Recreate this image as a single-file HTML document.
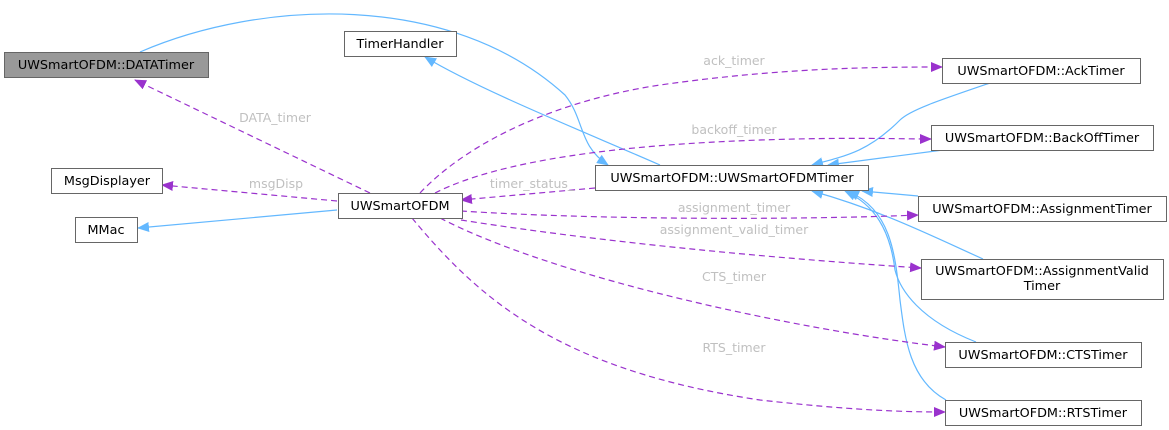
<!DOCTYPE html>
<html><head><meta charset="utf-8"><style>
html,body{margin:0;padding:0;background:#fff;}
svg{display:block;font-family:"DejaVu Sans","Liberation Sans",sans-serif;}
</style></head><body>
<svg width="1169" height="430" viewBox="0 0 1169 430" xmlns="http://www.w3.org/2000/svg">
<defs>
<marker id="b" markerWidth="12" markerHeight="10" refX="11" refY="5" orient="auto" markerUnits="userSpaceOnUse"><path d="M0,0 L12,5 L0,10 z" fill="#63b8ff"/></marker>
<marker id="p" markerWidth="12" markerHeight="10" refX="11" refY="5" orient="auto" markerUnits="userSpaceOnUse"><path d="M0,0 L12,5 L0,10 z" fill="#9a32cd"/></marker>
</defs>
<g fill="none" stroke="#63b8ff" stroke-width="1.2">
<path d="M337,210 L138,228" marker-end="url(#b)"/>
<path d="M660,165 C580,130 480,90 425,57" marker-end="url(#b)"/>
<path d="M140,52 C260,0 450,-10 565,95 C585,120 578,145 608,165" marker-end="url(#b)"/>
<path d="M990,83 C940,100 910,110 900,120 C870,150 850,155 812,165" marker-end="url(#b)"/>
<path d="M943,150 L828,165" marker-end="url(#b)"/>
<path d="M918,196 L862,191" marker-end="url(#b)"/>
<path d="M983,259 C930,235 880,210 812,191" marker-end="url(#b)"/>
<path d="M976,342 C920,320 900,290 895,270 C890,230 875,205 845,191" marker-end="url(#b)"/>
<path d="M946,400 C910,380 905,340 900,300 C895,250 890,210 848,191" marker-end="url(#b)"/>
</g>
<g fill="none" stroke="#9a32cd" stroke-width="1.2" stroke-dasharray="6,4">
<path d="M370,193 L135,80" marker-end="url(#p)"/>
<path d="M337,201 L162,185" marker-end="url(#p)"/>
<path d="M595,188 L461,200" marker-end="url(#p)"/>
<path d="M420,193 C470,140 560,100 660,85 C780,68 870,67 942,67" marker-end="url(#p)"/>
<path d="M435,193 C500,160 620,145 760,140 C850,137 900,139 931,139" marker-end="url(#p)"/>
<path d="M461,211 C600,220 800,220 918,215" marker-end="url(#p)"/>
<path d="M461,220 C620,245 800,260 921,268" marker-end="url(#p)"/>
<path d="M440,218 C560,280 800,330 945,347" marker-end="url(#p)"/>
<path d="M412,218 C480,300 560,370 760,400 C850,410 900,412 945,412" marker-end="url(#p)"/>
</g>
<g font-size="12.5" fill="#c0c0c0" text-anchor="middle">
<text x="275" y="122">DATA_timer</text>
<text x="276" y="188">msgDisp</text>
<text x="532" y="188">timer_status_</text>
<text x="734" y="65">ack_timer</text>
<text x="734" y="134">backoff_timer</text>
<text x="734" y="212">assignment_timer</text>
<text x="734" y="234">assignment_valid_timer</text>
<text x="734" y="281">CTS_timer</text>
<text x="734" y="352">RTS_timer</text>
</g>
<g stroke="#666" stroke-width="1" font-size="12.8" text-anchor="middle">
<rect x="4.5" y="52.5" width="204" height="25" fill="#999"/>
<text x="106" y="69" fill="#000" stroke="none">UWSmartOFDM::DATATimer</text>
<rect x="344.5" y="31.5" width="112" height="25" fill="#fff"/>
<text x="400" y="48" fill="#000" stroke="none">TimerHandler</text>
<rect x="51.5" y="168.5" width="111" height="25" fill="#fff"/>
<text x="107" y="185" fill="#000" stroke="none">MsgDisplayer</text>
<rect x="75.5" y="217.5" width="62" height="25" fill="#fff"/>
<text x="106" y="234" fill="#000" stroke="none">MMac</text>
<rect x="338.5" y="193.5" width="124" height="25" fill="#fff"/>
<text x="400" y="210" fill="#000" stroke="none">UWSmartOFDM</text>
<rect x="595.5" y="165.5" width="273" height="25" fill="#fff"/>
<text x="732" y="182" fill="#000" stroke="none">UWSmartOFDM::UWSmartOFDMTimer</text>
<rect x="942.5" y="58.5" width="198" height="25" fill="#fff"/>
<text x="1041" y="75" fill="#000" stroke="none">UWSmartOFDM::AckTimer</text>
<rect x="931.5" y="125.5" width="222" height="25" fill="#fff"/>
<text x="1042" y="142" fill="#000" stroke="none">UWSmartOFDM::BackOffTimer</text>
<rect x="918.5" y="196.5" width="248" height="25" fill="#fff"/>
<text x="1042" y="213" fill="#000" stroke="none">UWSmartOFDM::AssignmentTimer</text>
<rect x="921.5" y="259.5" width="242" height="40" fill="#fff"/>
<text x="1042" y="275" fill="#000" stroke="none">UWSmartOFDM::AssignmentValid</text>
<text x="1042" y="290" fill="#000" stroke="none">Timer</text>
<rect x="945.5" y="342.5" width="196" height="25" fill="#fff"/>
<text x="1043" y="359" fill="#000" stroke="none">UWSmartOFDM::CTSTimer</text>
<rect x="945.5" y="400.5" width="196" height="25" fill="#fff"/>
<text x="1043" y="417" fill="#000" stroke="none">UWSmartOFDM::RTSTimer</text>
</g>
</svg>
</body></html>
